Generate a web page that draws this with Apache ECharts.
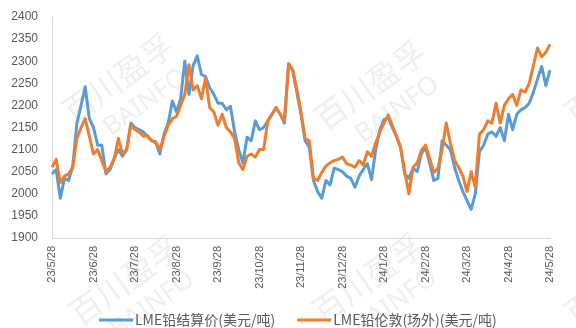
<!DOCTYPE html>
<html>
<head>
<meta charset="utf-8">
<script src="https://cdn.jsdelivr.net/npm/echarts@6/dist/echarts.min.js"></script>
<style>
  html, body { margin: 0; padding: 0; background: #fff; }
  #chart { width: 576px; height: 328px; }
</style>
</head>
<body>
<div id="chart"></div>
<script>
// Monthly tick labels along the bottom axis
const tickLabels = ['23/5/28', '23/6/28', '23/7/28', '23/8/28', '23/9/28', '23/10/28',
  '23/11/28', '23/12/28', '24/1/28', '24/2/28', '24/3/28', '24/4/28', '24/5/28'];

// Samples per month (prices sampled evenly between month marks)
const perMonth = 10;

const seriesNames = ['LME铅结算价(美元/吨)', 'LME铅伦敦(场外)(美元/吨)'];

// LME lead settlement price, USD/t
const settlement = [
  2045, 2055, 1990, 2035, 2030, 2062, 2160, 2200, 2242, 2170,
  2150, 2110, 2110, 2045, 2055, 2080, 2100, 2085, 2100, 2160,
  2150, 2145, 2140, 2130, 2120, 2115, 2090, 2135, 2160, 2210,
  2185, 2215, 2300, 2225, 2290, 2312, 2270, 2265, 2240, 2225,
  2205, 2205, 2190, 2198, 2140, 2100, 2070, 2128, 2120, 2165,
  2145, 2150, 2165, 2180, 2195, 2180, 2160, 2290, 2280, 2230,
  2180, 2120, 2105, 2030, 2005, 1990, 2030, 2020, 2058, 2055,
  2050, 2040, 2035, 2015, 2040, 2055, 2068, 2032, 2100, 2145,
  2168, 2172, 2150, 2130, 2105, 2045, 2035, 2058, 2050, 2090,
  2105, 2070, 2030, 2035, 2120, 2110, 2100, 2060, 2030, 2005,
  1985, 1965, 2000, 2095, 2110, 2135, 2140, 2130, 2150, 2120,
  2180, 2145, 2180, 2190, 2195, 2205, 2230, 2260, 2288, 2245,
  2280
];

// LME lead London OTC price, USD/t
const otc = [
  2060, 2078, 2025, 2040, 2045, 2060, 2125, 2150, 2170, 2130,
  2090, 2100, 2075, 2050, 2060, 2080, 2125, 2090, 2100, 2155,
  2145, 2140, 2130, 2132, 2120, 2118, 2100, 2130, 2155, 2170,
  2175, 2200, 2225, 2292, 2235, 2245, 2215, 2262, 2195, 2185,
  2155, 2180, 2150, 2140, 2125, 2070, 2055, 2085, 2090, 2083,
  2100, 2100, 2165, 2180, 2195, 2180, 2165, 2295, 2280, 2235,
  2185, 2125, 2120, 2035, 2030, 2048, 2063, 2070, 2075, 2078,
  2083, 2068, 2065, 2060, 2075, 2065, 2095, 2085, 2115, 2140,
  2160, 2178, 2155, 2130, 2105, 2050, 2000, 2060, 2070, 2098,
  2110, 2080, 2048, 2058, 2100, 2160, 2115, 2075, 2060, 2040,
  2005, 2050, 2015, 2135, 2145, 2165, 2160, 2205, 2160, 2200,
  2215, 2225, 2200, 2235, 2230, 2250, 2290, 2330, 2310, 2320,
  2338
];

const toPoints = arr => arr.map((v, i) => [i / perMonth, v]);

// Faint diagonal brand marks tiled across the canvas
const markCentres = [[118, 78], [370, 85], [125, 280], [368, 278], [620, 80], [620, 280]];
const marks = [];
markCentres.forEach(([cx, cy]) => {
  marks.push({
    type: 'group', x: cx, y: cy, rotation: 0.62, silent: true, z: 0,
    children: [
      { type: 'text', x: 0, y: 0, style: { text: '百川盈孚', font: '32px "Noto Sans CJK SC"', fill: 'rgba(120,120,120,0.12)', textAlign: 'center', textVerticalAlign: 'middle' } },
      { type: 'text', x: 8, y: 36, style: { text: 'BAINFO', font: '26px "Noto Sans"', fill: 'rgba(120,120,120,0.12)', textAlign: 'center', textVerticalAlign: 'middle' } }
    ]
  });
});

const chart = echarts.init(document.getElementById('chart'), null, { renderer: 'canvas' });
chart.setOption({
  animation: false,
  backgroundColor: '#ffffff',
  grid: { left: 52, right: 26, top: 17, bottom: 90 },
  graphic: marks,
  legend: {
    left: 94, top: 308,
    itemWidth: 34, itemHeight: 3, itemGap: 22,
    icon: 'rect',
    textStyle: { color: '#595959', fontSize: 14, fontFamily: '"Noto Sans CJK SC"', padding: [0, 0, 0, -3] },
    data: seriesNames
  },
  xAxis: {
    type: 'value', min: 0, max: tickLabels.length - 1, interval: 1,
    axisLine: { show: true, lineStyle: { color: '#d9d9d9', width: 1 } },
    axisTick: { show: false },
    splitLine: { show: false },
    axisLabel: {
      rotate: 90, margin: 8, color: '#595959', fontSize: 11,
      fontFamily: '"Liberation Sans", Arial',
      formatter: v => tickLabels[Math.round(v)] || ''
    }
  },
  yAxis: {
    type: 'value', min: 1900, max: 2400, interval: 50,
    axisLine: { show: true, lineStyle: { color: '#d9d9d9', width: 1 } },
    axisTick: { show: false },
    splitLine: { show: false },
    axisLabel: {
      margin: 14, color: '#595959', fontSize: 12, fontFamily: '"Liberation Sans", Arial',
      formatter: v => String(v)
    }
  },
  series: [
    {
      name: seriesNames[0], type: 'line', data: toPoints(settlement),
      showSymbol: false, color: '#5B9BD5', z: 3,
      lineStyle: { width: 3, color: '#5B9BD5', join: 'round' }
    },
    {
      name: seriesNames[1], type: 'line', data: toPoints(otc),
      showSymbol: false, color: '#ED7D31', z: 4,
      lineStyle: { width: 3, color: '#ED7D31', join: 'round' }
    }
  ]
});
</script>
</body>
</html>
